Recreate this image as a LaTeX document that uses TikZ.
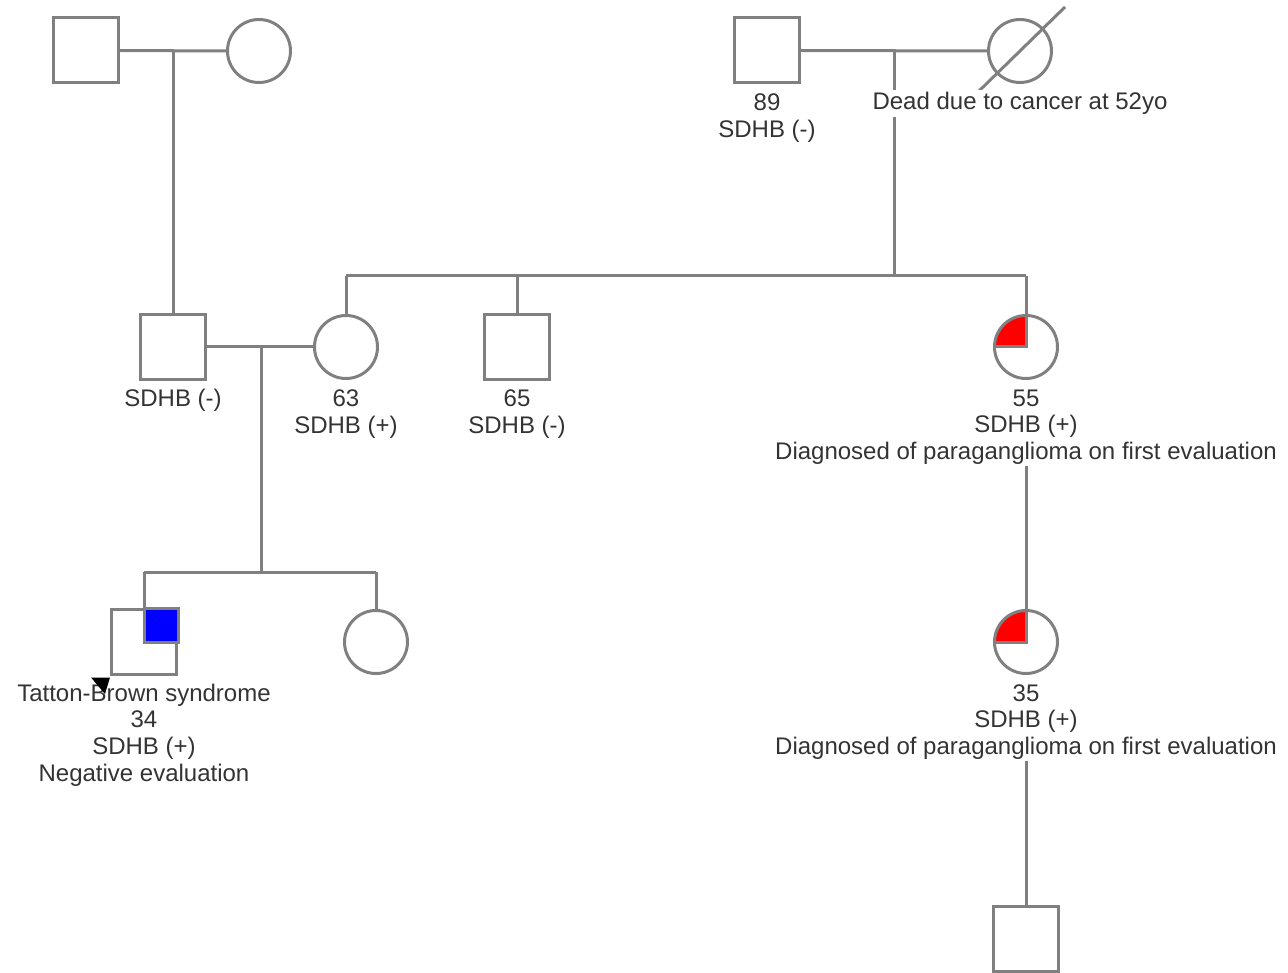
\documentclass[tikz,border=0pt]{standalone}
\usepackage{fontspec}
\setmainfont{Liberation Sans}
\definecolor{lc}{HTML}{808080}
\definecolor{tc}{HTML}{333333}
\begin{document}
\begin{tikzpicture}[x=1pt,y=-1pt,
  male/.style={draw=lc, line width=3pt, minimum size=65pt, inner sep=0pt},
  female/.style={circle, draw=lc, line width=3pt, minimum size=63pt, inner sep=0pt},
  link/.style={draw=lc, line width=3pt},
  lbl/.style={font=\fontsize{24}{26.6}\selectfont, text=tc, align=center, inner sep=1pt},
  affred/.style={fill=red},
  affblue/.style={fill=blue, draw=lc, line width=3pt}]
\useasboundingbox (0,0) rectangle (1288,973);
% affected quadrant fills (drawn first, outlines on top)
\coordinate (c55) at (1026,347);
\coordinate (c35) at (1026,642);
\begin{scope}
  \clip (c55) rectangle ++(-40,-40);
  \fill[affred] (c55) circle[radius=31.5pt];
\end{scope}
\begin{scope}
  \clip (c35) rectangle ++(-40,-40);
  \fill[affred] (c35) circle[radius=31.5pt];
\end{scope}
% generation I
\node[male] (gpm) at (85.5,50.5) {};
\node[female] (gpf) at (259,51) {};
\coordinate (gpc) at (173,51);
\node[male] (mgm) at (767,50.5) {};
\node[female] (mgf) at (1020,51) {};
\coordinate (mgc) at (894,51);
\coordinate (sib2m) at (894,276);
\draw[link] (gpm.east) -- (gpf.west);
\draw[link] (mgm.east) -- (mgf.west);
\draw[link] (mgc) -- (sib2m);
\draw[link] ([shift={(-42,41)}]mgf.center) -- ([shift={(45,-44)}]mgf.center);
\node[lbl] (l89) at (767,118) {89\\SDHB (-)};
\node[lbl, fill=white, inner sep=2.5pt] (ldead) at (1020,103.5) {Dead due to cancer at 52yo};
% generation II
\node[male] (fa) at (173,347) {};
\node[female] (mo) at (346,347) {};
\node[male] (un) at (517,347) {};
\node[female] (au) at (1026,347) {};
\coordinate (s2l) at (346,276);
\coordinate (s2u) at (517,276);
\coordinate (s2r) at (1026,276);
\coordinate (m2) at (261,347);
\coordinate (s3m) at (261,572);
\draw[link] (gpc) -- (fa.north);
\draw[link] (s2l) -- (s2r);
\draw[link] (s2l) -- (mo.north);
\draw[link] (s2u) -- (un.north);
\draw[link] (s2r) -- (au.north);
\draw[link] (au.west) -- (c55) -- (au.north);
\draw[link] (fa.east) -- (mo.west);
\draw[link] (m2) -- (s3m);
\node[lbl] (lfa) at (173,400) {SDHB (-)};
\node[lbl] (lmo) at (346,414) {63\\SDHB (+)};
\node[lbl] (lun) at (517,414) {65\\SDHB (-)};
\node[lbl] (lau) at (1026,427) {55\\SDHB (+)\\Diagnosed of paraganglioma on first evaluation};
% generation III
\node[male] (pb) at (144,642) {};
\node[female] (si) at (376,642) {};
\node[female] (co) at (1026,642) {};
\coordinate (s3l) at (144,572);
\coordinate (s3r) at (376,572);
\draw[link] (s3l) -- (s3r);
\draw[link] (s3l) -- (pb.north);
\draw[link] (s3r) -- (si.north);
\draw[affblue] (pb.center) rectangle (pb.north east);
\draw[link] (lau.south) -- (co.north);
\draw[link] (co.west) -- (c35) -- (co.north);
\node[lbl] (lpb) at (144,735) {Tatton-Brown syndrome\\34\\SDHB (+)\\Negative evaluation};
\fill[black] ([shift={(-19,1.5)}]pb.south west) -- ([shift={(0,1.5)}]pb.south west) -- ([shift={(-5,18)}]pb.south west) -- cycle;
\node[lbl] (lco) at (1026,722) {35\\SDHB (+)\\Diagnosed of paraganglioma on first evaluation};
% generation IV
\node[male] (gs) at (1026,938.5) {};
\draw[link] (lco.south) -- (gs.north);
\end{tikzpicture}
\end{document}
